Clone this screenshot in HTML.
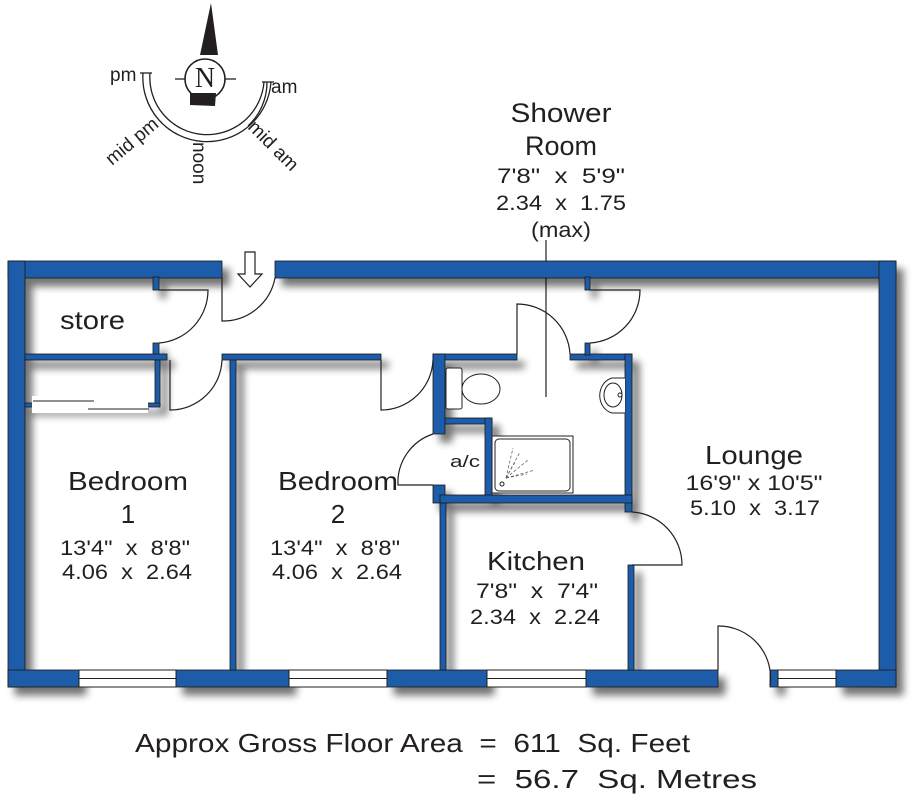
<!DOCTYPE html>
<html><head><meta charset="utf-8"><style>html,body{margin:0;padding:0;background:#fff}svg{display:block}text{font-family:"Liberation Sans",sans-serif;fill:#231f20;white-space:pre}</style></head><body>
<svg width="916" height="798" viewBox="0 0 916 798" xmlns="http://www.w3.org/2000/svg">
<defs>
<filter id="sh" x="-5%" y="-5%" width="115%" height="115%">
<feGaussianBlur in="SourceAlpha" stdDeviation="4"/>
<feOffset dx="7" dy="8" result="b"/>
<feComponentTransfer><feFuncA type="linear" slope="0.55"/></feComponentTransfer>
<feMerge><feMergeNode/><feMergeNode in="SourceGraphic"/></feMerge>
</filter>
</defs>

<!-- compass -->
<g stroke="#231f20" fill="none" stroke-width="1.3">
<path d="M211 3 L200 55 L218 55 Z" fill="#231f20" stroke="none"/>
<circle cx="205" cy="79" r="20" fill="#fff" stroke-width="1.6"/>
<line x1="175" y1="79" x2="185" y2="79"/><line x1="225" y1="79" x2="236" y2="79"/>
<path d="M190 93 L216 93 L215 106 L190 105 Z" fill="#231f20" stroke="none"/>
<path d="M143 73 A64 64 0 0 0 271 82"/>
<path d="M150 73 A56 56 0 0 0 264 82"/>
<path d="M267 82 A60 60 0 0 1 248 126"/>
<line x1="140" y1="73" x2="152" y2="73"/><line x1="262" y1="82" x2="274" y2="82"/>
</g>
<text x="205" y="87" font-size="28" text-anchor="middle" style="font-family:'Liberation Serif',serif">N</text>
<text x="110" y="81" font-size="19">pm</text>
<text x="271" y="93" font-size="19">am</text>
<text font-size="19" transform="translate(112,166) rotate(-40)">mid pm</text>
<text font-size="19" transform="translate(193,142) rotate(90)">noon</text>
<text font-size="19" transform="translate(247,128) rotate(45)">mid am</text>

<!-- shower room label -->
<g text-anchor="middle">
<text x="561" y="122" font-size="27" textLength="101" lengthAdjust="spacingAndGlyphs">Shower</text>
<text x="561" y="155" font-size="27" textLength="72" lengthAdjust="spacingAndGlyphs">Room</text>
<text x="561" y="183" font-size="21" textLength="128" lengthAdjust="spacingAndGlyphs">7'8"  x  5'9"</text>
<text x="561" y="210" font-size="21" textLength="130" lengthAdjust="spacingAndGlyphs">2.34  x  1.75</text>
<text x="561" y="237" font-size="21" textLength="60" lengthAdjust="spacingAndGlyphs">(max)</text>
</g>
<line x1="546" y1="240" x2="546" y2="397" stroke="#231f20" stroke-width="1.2"/>

<!-- walls -->
<g fill="#1f5ba8" stroke="#1a1a1a" stroke-width="0.8" filter="url(#sh)">
<rect x="8" y="261" width="214" height="17"/>
<rect x="275" y="261" width="621" height="17"/>
<rect x="8" y="261" width="17" height="426"/>
<rect x="879" y="261" width="17" height="426"/>
<rect x="8" y="670" width="71" height="17"/>
<rect x="176" y="670" width="113" height="17"/>
<rect x="387" y="670" width="100" height="17"/>
<rect x="586" y="670" width="132" height="17"/>
<rect x="770" y="670" width="8" height="17"/>
<rect x="836" y="670" width="60" height="17"/>
<rect x="153" y="277" width="6" height="13"/>
<rect x="153" y="343" width="6" height="12"/>
<rect x="25" y="354" width="142" height="6"/>
<rect x="155" y="360" width="5" height="46"/>
<rect x="25" y="403" width="135" height="4"/>
<rect x="222" y="354" width="159" height="6"/>
<rect x="230" y="360" width="6" height="310"/>
<rect x="440" y="495" width="6" height="175"/>
<rect x="433" y="354" width="84" height="6"/>
<rect x="570" y="354" width="62" height="6"/>
<rect x="433" y="354" width="12" height="80"/>
<rect x="433" y="485" width="12" height="18"/>
<rect x="625" y="354" width="7" height="158"/>
<rect x="445" y="418" width="47" height="6"/>
<rect x="485" y="418" width="7" height="80"/>
<rect x="440" y="495" width="192" height="8"/>
<rect x="585" y="277" width="5" height="13"/>
<rect x="585" y="343" width="5" height="12"/>
<rect x="628" y="565" width="6" height="105"/>
</g>

<!-- windows -->
<g fill="#fff" stroke="#231f20" stroke-width="1">
<rect x="79" y="670" width="97" height="17"/><line x1="79" y1="678.5" x2="176" y2="678.5"/>
<rect x="289" y="670" width="98" height="17"/><line x1="289" y1="678.5" x2="387" y2="678.5"/>
<rect x="487" y="670" width="99" height="17"/><line x1="487" y1="678.5" x2="586" y2="678.5"/>
<rect x="778" y="670" width="58" height="17"/><line x1="778" y1="678.5" x2="836" y2="678.5"/>
</g>
<rect x="32" y="396" width="116" height="17" fill="#fff"/>
<g stroke="#231f20" stroke-width="1" fill="none">
<line x1="33" y1="401" x2="94" y2="401"/><line x1="88" y1="409" x2="149" y2="409"/>
</g>

<!-- doors -->
<g stroke="#231f20" stroke-width="1.2" fill="none">
<path d="M159 290 L208 290 A53 53 0 0 1 159 343"/>
<path d="M222 278 L222 321 A53 53 0 0 0 275 278"/>
<path d="M170 360 L170 410 A52 52 0 0 0 222 360"/>
<path d="M381 360 L381 410 A52 52 0 0 0 433 360"/>
<path d="M517 354 L517 304 A53 53 0 0 1 570 354"/>
<path d="M590 290 L640 290 A53 53 0 0 1 590 343"/>
<path d="M433 434 A51 51 0 0 0 398 485 L433 485"/>
<path d="M632 512 A53 53 0 0 1 682 565 L632 565"/>
<path d="M718 670 L718 626 A52 52 0 0 1 770 686"/>
</g>
<path d="M245 252 L255 252 L255 274 L262 274 L250 287 L238 274 L245 274 Z" fill="#fff" stroke="#231f20" stroke-width="1.2"/>

<!-- fixtures -->
<g stroke="#231f20" stroke-width="1" fill="#fff">
<rect x="446" y="368" width="16" height="41" rx="2"/>
<ellipse cx="481" cy="389" rx="19" ry="15"/>
<path d="M625 378 L612 378 A16 18 0 0 0 612 413 L625 413"/>
<ellipse cx="613" cy="395" rx="9" ry="12"/>
<circle cx="620" cy="395" r="2"/>
<rect x="492" y="436" width="81" height="57"/>
<rect x="495" y="439" width="75" height="52" rx="4"/>
<circle cx="502" cy="484" r="2"/>
</g>
<g stroke="#555" stroke-width="0.7" stroke-dasharray="3 2">
<line x1="506" y1="478" x2="513" y2="448"/><line x1="506" y1="478" x2="520" y2="452"/>
<line x1="506" y1="478" x2="528" y2="460"/><line x1="506" y1="478" x2="535" y2="470"/>
<line x1="506" y1="478" x2="527" y2="474"/><line x1="506" y1="478" x2="515" y2="462"/>
</g>

<!-- labels -->
<text x="60" y="329" font-size="26" textLength="65" lengthAdjust="spacingAndGlyphs">store</text>
<text x="450" y="467" font-size="17" textLength="30" lengthAdjust="spacingAndGlyphs">a/c</text>
<g text-anchor="middle">
<text x="128" y="490" font-size="26" textLength="120" lengthAdjust="spacingAndGlyphs">Bedroom</text>
<text x="128" y="523" font-size="26">1</text>
<text x="125" y="555" font-size="21" textLength="130" lengthAdjust="spacingAndGlyphs">13'4"  x  8'8"</text>
<text x="127" y="579" font-size="21" textLength="130" lengthAdjust="spacingAndGlyphs">4.06  x  2.64</text>
<text x="338" y="490" font-size="26" textLength="120" lengthAdjust="spacingAndGlyphs">Bedroom</text>
<text x="338" y="523" font-size="26">2</text>
<text x="335" y="555" font-size="21" textLength="130" lengthAdjust="spacingAndGlyphs">13'4"  x  8'8"</text>
<text x="337" y="579" font-size="21" textLength="130" lengthAdjust="spacingAndGlyphs">4.06  x  2.64</text>
<text x="536" y="570" font-size="26" textLength="98" lengthAdjust="spacingAndGlyphs">Kitchen</text>
<text x="537" y="598" font-size="21" textLength="122" lengthAdjust="spacingAndGlyphs">7'8"  x  7'4"</text>
<text x="535" y="624" font-size="21" textLength="130" lengthAdjust="spacingAndGlyphs">2.34  x  2.24</text>
<text x="754" y="464" font-size="26" textLength="98" lengthAdjust="spacingAndGlyphs">Lounge</text>
<text x="754" y="490" font-size="21" textLength="137" lengthAdjust="spacingAndGlyphs">16'9" x 10'5"</text>
<text x="755" y="515" font-size="21" textLength="130" lengthAdjust="spacingAndGlyphs">5.10  x  3.17</text>
</g>
<text x="135" y="752" font-size="26" textLength="555" lengthAdjust="spacingAndGlyphs">Approx Gross Floor Area  =  611  Sq. Feet</text>
<text x="477" y="788" font-size="26" textLength="280" lengthAdjust="spacingAndGlyphs">=  56.7  Sq. Metres</text>
</svg>
</body></html>
